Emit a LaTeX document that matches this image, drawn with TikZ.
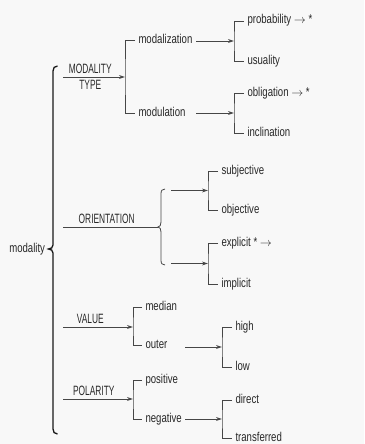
\documentclass[tikz,border=0pt]{standalone}
\usepackage{fontspec}
\setmainfont{Liberation Sans}[FakeStretch=0.75]
\newfontfamily\capsfont{Liberation Sans}[FakeStretch=0.62]
\usetikzlibrary{arrows.meta}
\definecolor{ink}{RGB}{40,40,40}
\definecolor{rule}{RGB}{70,70,70}
\definecolor{paper}{RGB}{248,248,248}

\begin{document}
\begin{tikzpicture}[x=1pt,y=-1pt,
  term/.style={anchor=west,inner sep=0pt,outer xsep=3.5pt,text height=9pt,text depth=3pt,
               font=\fontsize{12.8}{14}\selectfont,text=ink},
  feature/.style={inner sep=0pt,font=\capsfont\fontsize{13.5}{15}\selectfont,text=ink},
  link/.style={draw=rule,line width=0.8pt},
  choice/.style={link,-{Stealth[length=6pt,width=3.8pt,inset=2pt]}},
  spine/.style={draw=black!90,line width=1.3pt},
]
% canvas
\fill[paper] (0,0) rectangle (364,444);
\useasboundingbox (0,0) rectangle (364,444);

% entry condition
\node[term,anchor=east] (root) at (48.5,249) {modality};

% the big brace gathering the four simultaneous systems
\draw[spine] (57.5,66) .. controls (54.5,66) and (53,68) .. (53,71)
  -- (53,245) .. controls (53,247.5) and (51,249) .. (48.5,249)
  .. controls (51,249) and (53,250.5) .. (53,253)
  -- (53,429) .. controls (53,432) and (54.5,434) .. (57.5,434);

% system entry points and forks
\coordinate (typeFrom)   at (63,77);
\coordinate (orientFrom) at (63,227);
\coordinate (valueFrom)  at (63,327);
\coordinate (polarFrom)  at (63,399);
\coordinate (typeFork)   at (125,77);
\coordinate (orientTip)  at (158,227);
\coordinate (valueFork)  at (133,327);
\coordinate (polarFork)  at (133,399);

% second-level terms
\node[term] (modalization) at (135,40.5) {modalization};
\node[term] (modulation)   at (135,113)  {modulation};
\node[term] (median)       at (142,307)  {median};
\node[term] (outer)        at (142,345)  {outer};
\node[term] (positive)     at (142,380)  {positive};
\node[term] (negative)     at (142,419)  {negative};

% third-level terms
\node[term] (probability) at (244,21)  {probability $\rightarrow$ *};
\node[term] (usuality)    at (244,61)  {usuality};
\node[term] (obligation)  at (244,93)  {obligation $\rightarrow$ *};
\node[term] (inclination) at (244,133) {inclination};
\node[term] (subjective)  at (218,171) {subjective};
\node[term] (objective)   at (218,210) {objective};
\node[term] (explicit)    at (218,243) {explicit * $\rightarrow$};
\node[term] (implicit)    at (218,284) {implicit};
\node[term] (high)        at (232,327) {high};
\node[term] (low)         at (232,367) {low};
\node[term] (direct)      at (232,400) {direct};
\node[term] (transferred) at (232,438) {transferred};

% system arrows with their names
\draw[choice] (typeFrom) --
  node[feature,above=2.5pt,pos=.44] (typeName) {MODALITY}
  node[feature,below=2.5pt,pos=.44] (typeName2) {TYPE} (typeFork);
\draw[link] (orientFrom) --
  node[feature,above=3pt,pos=.46] (orientName) {ORIENTATION} (orientTip);
\draw[choice] (valueFrom) --
  node[feature,above=3pt,pos=.39] (valueName) {VALUE} (valueFork);
\draw[choice] (polarFrom) --
  node[feature,above=3pt,pos=.44] (polarName) {POLARITY} (polarFork);

% second-level brackets
\draw[link] (modalization.west) -| (typeFork) |- (modulation.west);
\draw[link] (median.west) -| (valueFork) |- (outer.west);
\draw[link] (positive.west) -| (polarFork) |- (negative.west);

% curly brace for the two simultaneous orientation systems
\draw[link] (165,189) .. controls (162,189) and (161,190.5) .. (161,194)
  -- (161,222) .. controls (161,225) and (160,227) .. (orientTip)
  .. controls (160,227) and (161,229) .. (161,232)
  -- (161,260) .. controls (161,263.5) and (162,265) .. (165,265);

% third-level arrows
\coordinate (modzOut)  at (196,41);   \coordinate (modzFork)  at (234,41);
\coordinate (modlOut)  at (196,113);  \coordinate (modlFork)  at (234,113);
\coordinate (subjOut)  at (171,190.5);\coordinate (subjFork)  at (208,190.5);
\coordinate (explOut)  at (171,263.5);\coordinate (explFork)  at (208,263.5);
\coordinate (outerOut) at (185,347);  \coordinate (outerFork) at (222,347);
\coordinate (negOut)   at (185,419);  \coordinate (negFork)   at (222,419);

\draw[choice] (modzOut) -- (modzFork);
\draw[choice] (modlOut) -- (modlFork);
\draw[choice] (subjOut) -- (subjFork);
\draw[choice] (explOut) -- (explFork);
\draw[choice] (outerOut) -- (outerFork);
\draw[choice] (negOut) -- (negFork);

% third-level brackets
\draw[link] (probability.west) -| (modzFork) |- (usuality.west);
\draw[link] (obligation.west)  -| (modlFork) |- (inclination.west);
\draw[link] (subjective.west)  -| (subjFork) |- (objective.west);
\draw[link] (explicit.west)    -| (explFork) |- (implicit.west);
\draw[link] (high.west)        -| (outerFork) |- (low.west);
\draw[link] (direct.west)      -| (negFork) |- (transferred.west);
\end{tikzpicture}
\end{document}
